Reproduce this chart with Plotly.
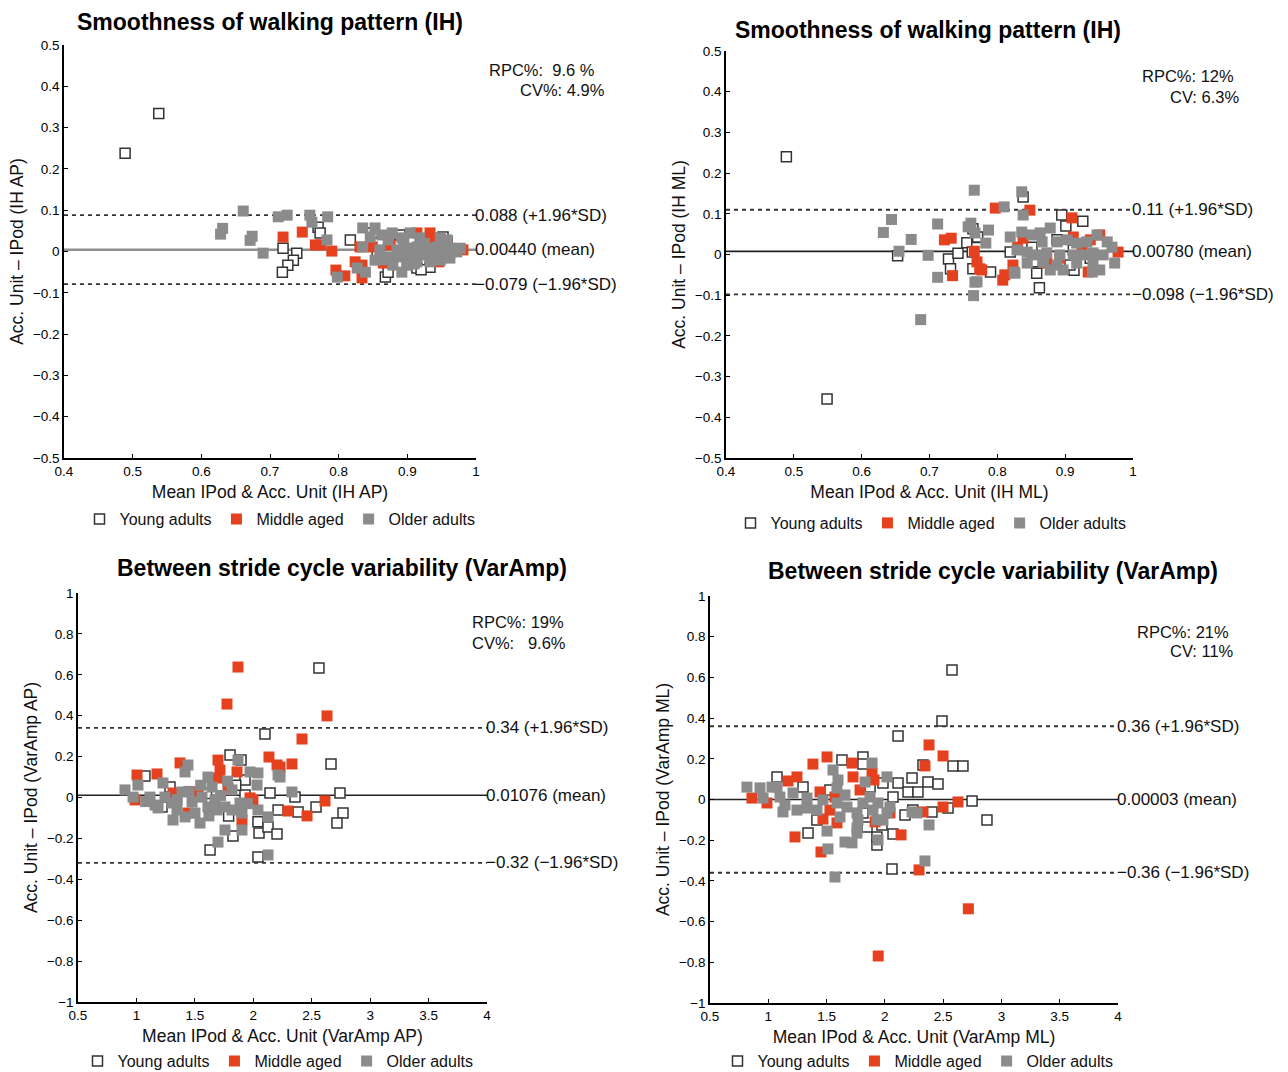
import plotly.graph_objects as go

# ---------------- data ----------------
# Panel 1: Smoothness (IH AP)
p1_young = [(0.538, 0.334), (0.489, 0.238), (0.719, 0.008), (0.739, -0.004), (0.734, -0.021),
            (0.726, -0.033), (0.718, -0.050), (0.770, 0.059), (0.773, 0.045), (0.817, 0.028),
            (0.868, -0.062), (0.849, 0.045), (0.889, 0.040), (0.872, -0.050), (0.914, -0.040),
            (0.933, -0.038), (0.894, -0.004), (0.952, 0.035), (0.856, -0.001), (0.958, 0.023),
            (0.920, -0.044)]
p1_middle = [(0.719, 0.035), (0.747, 0.047), (0.766, 0.016), (0.774, 0.016), (0.790, 0.001),
             (0.796, -0.045), (0.809, -0.059), (0.824, -0.025), (0.834, -0.033), (0.834, -0.064),
             (0.865, -0.028), (0.914, 0.045), (0.933, 0.045), (0.937, 0.033), (0.958, 0.021),
             (0.831, 0.011), (0.849, 0.011), (0.875, 0.016), (0.981, 0.004), (0.926, -0.008),
             (0.946, -0.025)]
p1_older = [(0.661, 0.098), (0.631, 0.056), (0.628, 0.042), (0.674, 0.037), (0.671, 0.027),
            (0.690, -0.004), (0.712, 0.084), (0.725, 0.088), (0.758, 0.088), (0.761, 0.071),
            (0.784, 0.084), (0.783, 0.028), (0.798, -0.062), (0.827, -0.040), (0.839, -0.050),
            (0.835, 0.057), (0.853, 0.057), (0.846, 0.035), (0.863, 0.040), (0.872, 0.028),
            (0.878, 0.045), (0.892, 0.033), (0.904, 0.045), (0.918, 0.033), (0.948, 0.033),
            (0.958, 0.028), (0.835, 0.011), (0.860, 0.004), (0.885, 0.004), (0.899, 0.008),
            (0.914, 0.011), (0.929, 0.008), (0.943, 0.011), (0.962, 0.008), (0.977, 0.008),
            (0.875, -0.013), (0.889, -0.013), (0.904, -0.008), (0.918, -0.008), (0.933, -0.008),
            (0.948, -0.004), (0.962, -0.004), (0.972, -0.001), (0.879, -0.033), (0.899, -0.033),
            (0.914, -0.025), (0.933, -0.025), (0.948, -0.021), (0.962, -0.016), (0.892, -0.050),
            (0.853, -0.021), (0.868, -0.020), (0.925, 0.020), (0.940, -0.015), (0.955, 0.015),
            (0.910, -0.030), (0.895, 0.022)]

# Panel 2: Smoothness (IH ML)
p2_young = [(0.489, 0.240), (0.549, -0.355), (0.653, -0.003), (0.728, -0.011), (0.731, -0.035),
            (0.742, 0.003), (0.755, 0.029), (0.764, 0.063), (0.770, 0.042), (0.764, -0.035),
            (0.790, -0.043), (0.838, 0.141), (0.819, 0.006), (0.858, -0.046), (0.862, -0.082),
            (0.895, 0.097), (0.901, 0.070), (0.926, 0.082), (0.913, -0.039), (0.888, 0.036),
            (0.851, 0.018), (0.771, 0.043), (0.763, 0.006), (0.907, -0.026), (0.937, -0.009),
            (0.912, 0.011), (0.853, -0.018)]
p2_middle = [(0.722, 0.036), (0.732, 0.040), (0.734, -0.052), (0.766, 0.008), (0.770, -0.018),
             (0.774, -0.035), (0.797, 0.114), (0.848, 0.109), (0.811, -0.050), (0.808, -0.063),
             (0.823, -0.026), (0.830, 0.018), (0.838, 0.040), (0.910, 0.090), (0.912, 0.043),
             (0.937, 0.036), (0.951, 0.048), (0.925, 0.023), (0.934, -0.043), (0.873, -0.021),
             (0.892, -0.009), (0.978, 0.006), (0.777, -0.038)]
p2_older = [(0.766, 0.158), (0.644, 0.086), (0.632, 0.054), (0.673, 0.037), (0.655, 0.008),
            (0.698, -0.002), (0.712, 0.075), (0.712, -0.056), (0.687, -0.160), (0.761, 0.077),
            (0.770, -0.067), (0.765, -0.101), (0.787, 0.060), (0.783, 0.028), (0.810, 0.117),
            (0.836, 0.154), (0.838, 0.097), (0.757, 0.068), (0.767, 0.053), (0.819, 0.043),
            (0.836, 0.055), (0.851, 0.048), (0.863, 0.053), (0.878, 0.065), (0.866, 0.031),
            (0.888, 0.031), (0.903, 0.036), (0.917, 0.028), (0.932, 0.031), (0.947, 0.048),
            (0.962, 0.031), (0.969, 0.018), (0.829, 0.011), (0.844, 0.006), (0.858, -0.001),
            (0.873, 0.004), (0.892, -0.001), (0.912, -0.001), (0.926, -0.001), (0.941, 0.004),
            (0.956, -0.001), (0.973, -0.021), (0.844, -0.021), (0.868, -0.018), (0.888, -0.026),
            (0.897, -0.038), (0.917, -0.021), (0.941, -0.021), (0.951, -0.038), (0.940, -0.043),
            (0.826, -0.046), (0.767, -0.068), (0.878, -0.038), (0.825, -0.043)]

# Panel 3: Between stride cycle variability (VarAmp AP)
p3_young = [(2.562, 0.633), (2.100, 0.311), (2.665, 0.164), (1.801, 0.208), (1.895, 0.183),
            (1.929, 0.086), (1.073, 0.105), (1.287, 0.051), (2.143, 0.022), (2.357, 0.002),
            (2.742, 0.022), (2.768, -0.076), (2.716, -0.125), (2.537, -0.046), (2.383, -0.071),
            (2.212, -0.061), (2.040, -0.119), (2.049, -0.174), (2.126, -0.144), (2.203, -0.178),
            (2.040, -0.291), (1.826, -0.188), (1.630, -0.257), (1.219, -0.046), (1.929, 0.012),
            (1.789, -0.091), (1.600, 0.020), (1.850, 0.060)]
p3_middle = [(1.869, 0.638), (1.775, 0.457), (2.631, 0.399), (2.417, 0.286), (2.331, 0.164),
             (2.134, 0.198), (2.203, 0.159), (2.229, 0.149), (1.005, 0.110), (1.176, 0.115),
             (1.373, 0.169), (1.698, 0.183), (1.715, 0.134), (1.698, 0.095), (0.988, -0.012),
             (1.527, 0.027), (1.313, 0.022), (1.784, 0.046), (1.972, -0.002), (1.997, -0.012),
             (1.903, -0.110), (1.861, 0.125), (1.441, -0.076), (2.297, -0.066), (2.460, -0.090),
             (2.614, -0.017)]
p3_older = [(0.902, 0.037), (0.971, 0.002), (1.013, 0.061), (1.116, 0.002), (1.159, -0.037),
            (1.227, 0.071), (1.244, 0.002), (1.304, -0.027), (1.313, -0.110), (1.390, 0.027),
            (1.416, 0.125), (1.441, 0.159), (1.476, -0.022), (1.416, -0.095), (1.501, -0.076),
            (1.544, -0.125), (1.561, 0.002), (1.612, 0.100), (1.647, 0.051), (1.672, -0.012),
            (1.689, -0.061), (1.758, -0.159), (1.698, -0.218), (1.818, 0.037), (1.886, -0.027),
            (1.903, -0.076), (1.869, 0.183), (1.972, 0.125), (2.040, 0.120), (2.032, 0.061),
            (2.040, -0.061), (2.126, -0.095), (2.212, 0.110), (1.903, -0.159), (2.126, -0.281),
            (1.185, -0.051), (1.347, -0.061), (1.758, -0.046), (1.818, -0.061), (1.612, -0.046),
            (2.229, 0.100), (2.331, 0.027), (1.550, 0.060), (1.720, 0.010), (1.450, 0.030),
            (1.350, -0.010), (1.080, -0.020), (1.620, -0.090), (1.950, -0.030), (1.780, 0.080)]

# Panel 4: Between stride cycle variability (VarAmp ML)
p4_young = [(2.576, 0.636), (2.490, 0.386), (2.113, 0.312), (2.585, 0.165), (2.670, 0.165),
            (2.327, 0.170), (1.812, 0.209), (1.812, 0.174), (1.632, 0.194), (1.075, 0.111),
            (1.298, 0.061), (2.233, 0.106), (2.370, 0.086), (2.456, 0.076), (2.113, 0.081),
            (2.199, 0.037), (2.284, 0.037), (2.070, 0.012), (2.748, -0.007), (2.876, -0.101),
            (2.542, -0.042), (2.404, -0.061), (2.173, -0.076), (2.240, -0.052), (1.341, -0.165),
            (1.932, -0.224), (1.932, -0.184), (2.070, -0.170), (2.061, -0.342), (1.417, -0.101),
            (1.847, -0.135), (1.975, -0.125), (1.812, -0.066), (1.529, 0.047), (1.984, 0.081),
            (1.873, 0.061)]
p4_middle = [(1.943, -0.769), (2.716, -0.537), (2.379, 0.268), (2.499, 0.214), (2.344, 0.165),
             (1.504, 0.209), (1.383, 0.174), (1.246, 0.111), (1.169, 0.091), (1.718, 0.179),
             (1.727, 0.111), (1.890, 0.130), (1.907, 0.096), (1.787, 0.047), (1.444, 0.037),
             (0.860, 0.007), (0.989, -0.017), (2.627, -0.012), (2.499, -0.037), (2.327, -0.061),
             (1.469, -0.096), (1.589, -0.115), (1.229, -0.184), (1.452, -0.258), (2.139, -0.174),
             (1.916, -0.110), (2.293, -0.346), (1.529, -0.052), (1.572, 0.012), (2.044, -0.066)]
p4_older = [(0.817, 0.061), (0.929, 0.057), (1.032, 0.061), (0.955, 0.007), (1.100, 0.012),
            (1.143, -0.027), (1.212, 0.032), (1.126, -0.061), (1.246, -0.052), (1.332, -0.042),
            (1.332, 0.007), (1.418, -0.052), (1.469, -0.002), (1.555, 0.145), (1.598, 0.096),
            (1.589, 0.057), (1.658, 0.022), (1.589, -0.017), (1.675, -0.037), (1.615, -0.086),
            (1.504, -0.155), (1.658, -0.209), (1.718, -0.213), (1.512, -0.243), (1.572, -0.381),
            (1.761, -0.066), (1.770, -0.101), (1.761, -0.140), (1.812, -0.017), (1.890, 0.179),
            (1.873, 0.012), (1.941, -0.017), (1.898, -0.052), (1.932, -0.101), (1.984, -0.101),
            (2.018, -0.066), (2.044, -0.037), (1.941, -0.199), (2.018, 0.111), (1.830, 0.086),
            (2.233, -0.061), (2.276, -0.066), (2.379, -0.125), (2.344, -0.302), (1.761, -0.165),
            (1.075, 0.061)]

# Statistics (mean and limits of agreement) and labels
means = [0.0044, 0.0078, 0.01076, 0.00003]
upper = [0.088, 0.11, 0.34, 0.36]
lower = [-0.079, -0.098, -0.32, -0.36]
mean_labels = ["0.00440 (mean)", "0.00780 (mean)", "0.01076 (mean)", "0.00003 (mean)"]
upper_labels = ["0.088 (+1.96*SD)", "0.11 (+1.96*SD)", "0.34 (+1.96*SD)", "0.36 (+1.96*SD)"]
lower_labels = ["\u22120.079 (\u22121.96*SD)", "\u22120.098 (\u22121.96*SD)",
                "\u22120.32 (\u22121.96*SD)", "\u22120.36 (\u22121.96*SD)"]
titles = ["Smoothness of walking pattern (IH)", "Smoothness of walking pattern (IH)",
          "Between stride cycle variability (VarAmp)", "Between stride cycle variability (VarAmp)"]
x_titles = ["Mean IPod & Acc. Unit (IH AP)", "Mean IPod & Acc. Unit (IH ML)",
            "Mean IPod & Acc. Unit (VarAmp AP)", "Mean IPod & Acc. Unit (VarAmp ML)"]
y_titles = ["Acc. Unit \u2013 IPod (IH AP)", "Acc. Unit \u2013 IPod (IH ML)",
            "Acc. Unit \u2013 IPod (VarAmp AP)", "Acc. Unit \u2013 IPod (VarAmp ML)"]
rpc_texts = [("RPC%:  9.6 %", "CV%: 4.9%"), ("RPC%: 12%", "CV: 6.3%"),
             ("RPC%: 19%", "CV%:   9.6%"), ("RPC%: 21%", "CV: 11%")]
group_names = ["Young adults", "Middle aged", "Older adults"]

data = [(p1_young, p1_middle, p1_older), (p2_young, p2_middle, p2_older),
        (p3_young, p3_middle, p3_older), (p4_young, p4_middle, p4_older)]

# ---------------- layout geometry (pixels of a 1288x1072 page) ----------------
W, H = 1288, 1072
FONT = "Liberation Sans, Arial, Helvetica, sans-serif"
RED = "#e6411f"
GRAY = "#8b8b8b"
DARK = "#333333"

# plot-area boxes: left, right, top, bottom (px)
boxes = [(64, 476, 45, 458), (726, 1133, 51, 458), (78, 487, 593, 1002), (710, 1118, 596, 1003)]
xranges = [[0.4, 1.0], [0.4, 1.0], [0.5, 4.0], [0.5, 4.0]]
yranges = [[-0.5, 0.5], [-0.5, 0.5], [-1.0, 1.0], [-1.0, 1.0]]
xdticks = [0.1, 0.1, 0.5, 0.5]
ydticks = [0.1, 0.1, 0.2, 0.2]
title_pos = [(270, 22), (928, 30), (342, 568), (993, 571)]
legend_pos = [(280, 519), (931, 523), (278, 1061), (918, 1061)]
# rpc text positions: (x, y, anchor) for the two lines
rpc_pos = [((597, 70, "right"), (607, 90, "right")),
           ((1236, 76, "right"), (1241, 97, "right")),
           ((470, 622, "left"), (470, 643, "left")),
           ((1231, 632, "right"), (1236, 651, "right"))]
mean_colors = ["#8f8f8f", "#222222", "#222222", "#222222"]
mean_widths = [2.5, 1.6, 1.6, 1.6]


def px(x):
    return x / W


def py(y):
    return 1 - y / H


fig = go.Figure()
annotations = []
shapes = []
layout_axes = {}

for i in range(4):
    k = "" if i == 0 else str(i + 1)
    xa, ya = "x" + k, "y" + k
    leg = "legend" if i == 0 else "legend" + str(i + 1)
    l, r, t, b = boxes[i]
    young, middle, older = data[i]

    styles = [
        dict(color="white", size=10, line=dict(color=DARK, width=1.5)),
        dict(color=RED, size=11, line=dict(color=RED, width=0)),
        dict(color=GRAY, size=11, line=dict(color=GRAY, width=0)),
    ]
    for g, pts in enumerate((young, middle, older)):
        fig.add_trace(go.Scatter(
            x=[p[0] for p in pts], y=[p[1] for p in pts],
            mode="markers", name=group_names[g],
            marker=dict(symbol="square", **styles[g]),
            xaxis=xa, yaxis=ya, legend=leg, showlegend=True,
            hoverinfo="skip"))

    layout_axes["xaxis" + k] = dict(
        domain=[px(l), px(r)], range=xranges[i], anchor=ya, automargin=False,
        dtick=xdticks[i], tick0=xranges[i][0],
        showline=True, linecolor="black", linewidth=1.5, mirror=False,
        showgrid=False, zeroline=False, ticks="inside", ticklen=4, tickcolor="black",
        tickfont=dict(family=FONT, size=13.5, color="black"),
        title=dict(text=x_titles[i], font=dict(family=FONT, size=17.5, color="#111"), standoff=8),
        fixedrange=True)
    layout_axes["yaxis" + k] = dict(
        domain=[py(b), py(t)], range=yranges[i], anchor=xa, automargin=False,
        dtick=ydticks[i], tick0=yranges[i][0],
        showline=True, linecolor="black", linewidth=1.5, mirror=False,
        showgrid=False, zeroline=False, ticks="inside", ticklen=4, tickcolor="black",
        tickfont=dict(family=FONT, size=13.5, color="black"),
        title=dict(text=y_titles[i], font=dict(family=FONT, size=17.5, color="#111"), standoff=5),
        fixedrange=True)

    # horizontal reference lines
    for val, dash, col, wid in ((means[i], "solid", mean_colors[i], mean_widths[i]),
                                (upper[i], "4px,4px", DARK, 1.8),
                                (lower[i], "4px,4px", DARK, 1.8)):
        shapes.append(dict(type="line", xref=xa + " domain", yref=ya,
                           x0=0, x1=1, y0=val, y1=val,
                           line=dict(color=col, width=wid, dash=dash), layer="below"))

    for val, txt in ((means[i], mean_labels[i]), (upper[i], upper_labels[i]),
                     (lower[i], lower_labels[i])):
        annotations.append(dict(xref=xa + " domain", yref=ya, x=1, y=val, text=txt,
                                xanchor="left", yanchor="middle", showarrow=False, xshift=-3,
                                font=dict(family=FONT, size=17, color="#111")))

    # panel title
    tx, ty = title_pos[i]
    annotations.append(dict(xref="paper", yref="paper", x=px(tx), y=py(ty),
                            text="<b>" + titles[i] + "</b>", showarrow=False,
                            xanchor="center", yanchor="middle",
                            font=dict(family=FONT, size=23, color="black")))
    # RPC / CV text
    for (rx, ry, anc), txt in zip(rpc_pos[i], rpc_texts[i]):
        annotations.append(dict(xref="paper", yref="paper", x=px(rx), y=py(ry),
                                text=txt.replace("  ", "&nbsp; "), showarrow=False,
                                xanchor=anc, yanchor="middle",
                                font=dict(family=FONT, size=16.5, color="#111")))

    lx, ly = legend_pos[i]
    layout_axes[leg] = dict(orientation="h", x=px(lx), y=py(ly), xanchor="center",
                            yanchor="middle", font=dict(family=FONT, size=16, color="#111"),
                            bgcolor="rgba(0,0,0,0)", itemwidth=30, tracegroupgap=0,
                            itemclick=False, itemdoubleclick=False)

fig.update_layout(
    width=W, height=H,
    margin=dict(l=0, r=0, t=0, b=0, autoexpand=False),
    paper_bgcolor="white", plot_bgcolor="white",
    font=dict(family=FONT, color="#111"),
    shapes=shapes, annotations=annotations,
    **layout_axes)

fig.write_html("out.html", config={"displayModeBar": False},
               post_script="document.body.style.margin='0';document.body.style.overflow='hidden';")
